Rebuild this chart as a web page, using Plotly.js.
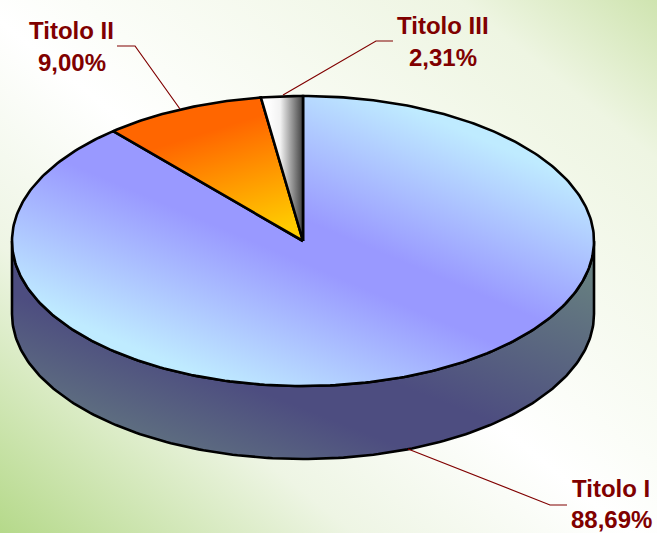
<!DOCTYPE html>
<html>
<head>
<meta charset="utf-8">
<script src="https://cdn.plot.ly/plotly-3.0.1.min.js"></script>
<style>
html,body{margin:0;padding:0;width:657px;height:533px;overflow:hidden;
background:linear-gradient(to top right,#b5d98a 0%,#eef5e4 27%,#ffffff 48%,#fbfdf8 56%,#eef5e2 85%,#cfe4b0 100%);}
#chart{width:657px;height:533px;}
</style>
</head>
<body>
<div id="chart"></div>
<script>
// Data (order: clockwise from 12 o'clock)
const categories = ["Titolo I", "Titolo II", "Titolo III"];
const shares = [88.69, 9.00, 2.31];

// Label anchor points and leader lines, in pixel-like axis units
const labelX = [611, 71.5, 442.5];
const nameY = [488, 30, 25];
const shareY = [519, 62, 57];
const leaders = [
  "M567,505 L550,505 L408,449",
  "M117,46 L135,46 L180,109",
  "M393,41 L376,41 L283,95"
];

const CX = 303, CY = 241, RX = 291, RY = 145, DEPTH = 73;
const TEXT_RED = "#800000";

function rim(f, dy) {
  const a = 2 * Math.PI * f;
  return [CX + RX * Math.sin(a), CY + (dy || 0) - RY * Math.cos(a)];
}

function slicePath(f0, f1) {
  const xs = [CX], ys = [CY];
  const n = Math.max(4, Math.ceil((f1 - f0) * 360));
  for (let i = 0; i <= n; i++) {
    const p = rim(f0 + (f1 - f0) * i / n);
    xs.push(p[0]); ys.push(p[1]);
  }
  xs.push(CX); ys.push(CY);
  return {xs, ys};
}

function wallPath() {
  const xs = [], ys = [];
  for (let i = 0; i <= 180; i++) { const p = rim(0.25 + i / 360, DEPTH); xs.push(p[0]); ys.push(p[1]); }
  for (let i = 180; i >= 0; i--) { const p = rim(0.25 + i / 360, 0); xs.push(p[0]); ys.push(p[1]); }
  xs.push(xs[0]); ys.push(ys[0]);
  return {xs, ys};
}

const outline = {color: "#000000", width: 2.6};
const traces = [];
const wall = wallPath();
traces.push({type: "scatter", mode: "lines", x: wall.xs, y: wall.ys, fill: "toself",
  fillcolor: "#566a80", line: outline, hoverinfo: "skip", showlegend: false, name: "wall"});

const total = shares.reduce((a, b) => a + b, 0);
const solid = ["#9999ff", "#ff9900", "#cccccc"];
let acc = 0;
shares.forEach((v, i) => {
  const s = slicePath(acc / total, (acc + v) / total);
  acc += v;
  traces.push({type: "scatter", mode: "lines", x: s.xs, y: s.ys, fill: "toself",
    fillcolor: solid[i], line: outline, name: categories[i], hoverinfo: "name", showlegend: false});
});

const fmt = v => v.toFixed(2).replace(".", ",") + "%";
const annotations = [];
categories.forEach((c, i) => {
  [[c, nameY[i]], [fmt(shares[i]), shareY[i]]].forEach(t => annotations.push({
    x: labelX[i], y: t[1], xref: "x", yref: "y", text: t[0], showarrow: false,
    xanchor: "center", yanchor: "middle",
    font: {family: "Liberation Sans, Arial, sans-serif", size: 24, color: TEXT_RED, weight: 700}
  }));
});

const shapes = leaders.map(p => ({type: "path", xref: "x", yref: "y", path: p,
  line: {color: TEXT_RED, width: 1.2}, layer: "above"}));

const layout = {
  width: 657, height: 533,
  margin: {l: 0, r: 0, t: 0, b: 0, pad: 0},
  paper_bgcolor: "rgba(0,0,0,0)", plot_bgcolor: "rgba(0,0,0,0)",
  xaxis: {range: [0, 657], visible: false, fixedrange: true},
  yaxis: {range: [533, 0], visible: false, fixedrange: true},
  showlegend: false, annotations, shapes
};

// Gradient definitions: vector in axis units, then stops
const gradients = [
  {p: [340, 560, 470, 230], stops: [[0, "#667e80"], [0.36, "#4d4d80"], [0.52, "#4d4d80"], [1, "#667e80"]]},
  {p: [239, 392, 367, 90], stops: [[0, "#bfebff"], [0.44, "#9999ff"], [0.56, "#9999ff"], [1, "#bfebff"]]},
  {p: [262, 115, 296, 225], stops: [[0, "#ff6600"], [1, "#ffcc00"]]},
  {p: [268, 0, 303, 0], stops: [[0, "#ffffff"], [0.35, "#f2f2f2"], [1, "#404040"]]}
];

Plotly.newPlot("chart", traces, layout, {displayModeBar: false, responsive: false}).then(gd => {
  const NS = "http://www.w3.org/2000/svg";
  const svg = gd.querySelector("svg.main-svg");
  const defs = svg.querySelector("defs") || svg.insertBefore(document.createElementNS(NS, "defs"), svg.firstChild);
  const fills = gd.querySelectorAll(".scatterlayer .trace .js-fill");
  gradients.forEach((g, i) => {
    const lg = document.createElementNS(NS, "linearGradient");
    lg.setAttribute("id", "grad" + i);
    lg.setAttribute("gradientUnits", "userSpaceOnUse");
    ["x1", "y1", "x2", "y2"].forEach((k, j) => lg.setAttribute(k, g.p[j]));
    g.stops.forEach(s => {
      const st = document.createElementNS(NS, "stop");
      st.setAttribute("offset", s[0]);
      st.setAttribute("stop-color", s[1]);
      lg.appendChild(st);
    });
    defs.appendChild(lg);
    if (fills[i]) fills[i].style.fill = "url(#grad" + i + ")";
  });
});
</script>
</body>
</html>
